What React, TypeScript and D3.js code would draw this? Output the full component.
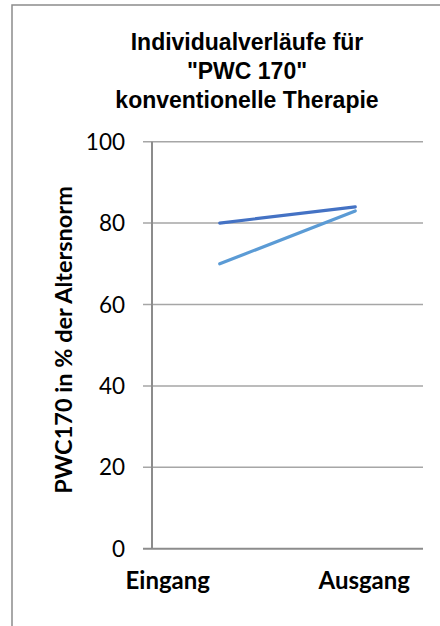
import React from "react";
import * as d3 from "d3";

const categories = ["Eingang", "Ausgang"];
const seriesA = [80, 84];
const seriesB = [70, 83];
const yTicks = [0, 20, 40, 60, 80, 100];
const titleLines = ["Individualverläufe für", "\"PWC 170\"", "konventionelle Therapie"];
const yAxisTitle = "PWC170 in % der Altersnorm";

const W = 440;
const H = 626;
const plot = { left: 152, right: 423, top: 141.7, bottom: 548.7 };
// horizontal shift of each category label from its band centre
const labelShift = [-52, 9];

export default function App() {
  const x = d3
    .scaleBand<string>()
    .domain(categories)
    .range([plot.left, plot.right])
    .padding(0);
  const y = d3.scaleLinear().domain([0, 100]).range([plot.bottom, plot.top]);
  const cx = (c: string) => (x(c) ?? 0) + x.bandwidth() / 2;

  const line = d3
    .line<number>()
    .x((_, i) => cx(categories[i]))
    .y((v) => y(v));

  const series = [
    { values: seriesB, color: "#5B9BD5" },
    { values: seriesA, color: "#4472C4" },
  ];

  return (
    <svg
      width={W}
      height={H}
      style={{ position: "absolute", left: 0, top: 0, background: "#fff" }}
    >
      <rect x={12} y={5} width={W} height={H} fill="#fff" stroke="#8c8c8c" strokeWidth={1.5} />

      <g fontFamily="'Liberation Sans', Arial, sans-serif" fontWeight="bold" fontSize={23} fill="#000" textAnchor="middle">
        {titleLines.map((t, i) => (
          <text key={i} x={247} y={49.5 + i * 29}>
            {t}
          </text>
        ))}
      </g>

      {yTicks.map((t) => (
        <g key={t}>
          <line
            x1={plot.left - 9}
            x2={plot.right}
            y1={y(t)}
            y2={y(t)}
            stroke={t === 0 ? "#8c8c8c" : "#a6a6a6"}
            strokeWidth={t === 0 ? 2 : 1.5}
          />
          <text
            x={125}
            y={y(t) + 8}
            textAnchor="end"
            fontFamily="Lato, sans-serif"
            fontSize={22.5}
            fill="#000"
          >
            {t}
          </text>
        </g>
      ))}
      <line x1={plot.left} x2={plot.left} y1={plot.top} y2={plot.bottom} stroke="#8c8c8c" strokeWidth={2} />

      {series.map((s, i) => (
        <path
          key={i}
          d={line(s.values) ?? ""}
          fill="none"
          stroke={s.color}
          strokeWidth={3.2}
          strokeLinecap="round"
        />
      ))}

      {categories.map((c, i) => (
        <text
          key={c}
          x={cx(c) + labelShift[i]}
          y={589}
          textAnchor="middle"
          fontFamily="Lato, sans-serif"
          fontWeight="bold"
          fontSize={24}
          fill="#000"
        >
          {c}
        </text>
      ))}

      <text
        transform={`translate(72,340) rotate(-90)`}
        textAnchor="middle"
        fontFamily="Lato, sans-serif"
        fontWeight="bold"
        fontSize={23.5}
        fill="#000"
      >
        {yAxisTitle}
      </text>
    </svg>
  );
}
